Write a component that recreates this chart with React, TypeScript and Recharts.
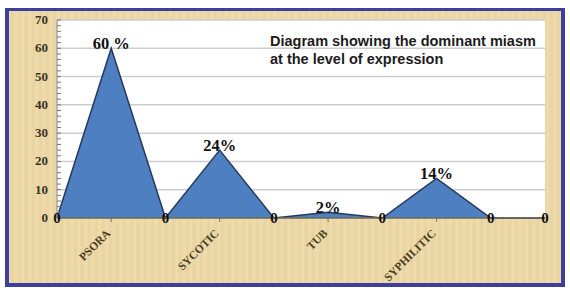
import { AreaChart, Area, XAxis, YAxis, CartesianGrid, LabelList } from "recharts";

// chart values
const categories = ["", "PSORA", "", "SYCOTIC", "", "TUB", "", "SYPHILITIC", "", ""];
const miasmValues = [0, 60, 0, 24, 0, 2, 0, 14, 0, 0];
const valueLabels = ["0", "60 %", "0", "24%", "0", "2%", "0", "14%", "0", "0"];
const yMajorTicks = [0, 10, 20, 30, 40, 50, 60, 70];
const yMinorTicks = [
  0, 2, 4, 6, 8, 10, 12, 14, 16, 18, 20, 22, 24, 26, 28, 30, 32, 34, 36,
  38, 40, 42, 44, 46, 48, 50, 52, 54, 56, 58, 60, 62, 64, 66, 68, 70,
];

const data = categories.map((name, i) => ({
  idx: i,
  name,
  value: miasmValues[i],
  label: valueLabels[i],
}));

const serif = "'Liberation Serif', 'DejaVu Serif', serif";

const YTick = ({ x, y, payload }: any) => {
  const major = yMajorTicks.includes(payload.value);
  return (
    <g>
      <line x1={x + 8} x2={x + 12} y1={y} y2={y} stroke="#777" strokeWidth={1} />
      {major && (
        <text x={x - 1} y={y + 4} textAnchor="end" fontFamily={serif} fontWeight="bold" fontSize={13} fill="#3a3326">
          {payload.value}
        </text>
      )}
    </g>
  );
};

const XTick = ({ x, y, payload }: any) => {
  const name = categories[payload.value];
  if (!name) return null;
  return (
    <g>
      <line x1={x} x2={x} y1={y - 8} y2={y - 4} stroke="#777" strokeWidth={1} />
      <text
        x={x}
        y={y + 8}
        textAnchor="end"
        transform={`rotate(-45 ${x} ${y + 8})`}
        fontFamily={serif}
        fontWeight="bold"
        fontSize={11.5}
        fill="#4a3d22"
      >
        {name}
      </text>
    </g>
  );
};

const PointLabel = ({ x, y, value }: any) => {
  if (value === "0") {
    return (
      <text x={x} y={y + 5} textAnchor="middle" fontFamily={serif} fontWeight="bold" fontSize={15} fill="#111">
        0
      </text>
    );
  }
  return (
    <text x={x} y={y + 1} textAnchor="middle" fontFamily={serif} fontWeight="bold" fontSize={16.5} fill="#111">
      {value}
    </text>
  );
};

export default function App() {
  return (
    <div style={{ position: "absolute", left: 0, top: 0, width: 570, height: 293, background: "#fff" }}>
      <div
        style={{
          position: "absolute",
          left: 5,
          top: 8,
          width: 552,
          height: 272,
          border: "4px solid #3d3f9e",
          borderTopWidth: 3,
          background:
            "repeating-linear-gradient(90deg, rgba(255,255,255,0.08) 0px, rgba(0,0,0,0.03) 3px, rgba(255,255,255,0.06) 7px), #efd9a6",
        }}
      />
      <div style={{ position: "absolute", left: 0, top: 0 }}>
        <AreaChart width={570} height={293} data={data} margin={{ top: 20, right: 25, bottom: 0, left: 2 }}>
          <CartesianGrid
            horizontal
            vertical={false}
            horizontalValues={yMajorTicks}
            fill="#ffffff"
            stroke="#c9cdd2"
            strokeWidth={1.5}
          />
          <XAxis
            dataKey="idx"
            type="category"
            tick={<XTick />}
            tickLine={false}
            axisLine={{ stroke: "#6e6a58", strokeWidth: 1.5 }}
            interval={0}
            height={75}
          />
          <YAxis
            domain={[0, 70]}
            ticks={yMinorTicks}
            interval={0}
            tick={<YTick />}
            tickLine={false}
            axisLine={{ stroke: "#888", strokeWidth: 1 }}
            width={55}
          />
          <Area
            type="linear"
            dataKey="value"
            fill="#4e7fc0"
            fillOpacity={1}
            stroke="#27385a"
            strokeWidth={1.5}
            isAnimationActive={false}
          >
            <LabelList dataKey="label" content={<PointLabel />} />
          </Area>
        </AreaChart>
      </div>
      <div
        style={{
          position: "absolute",
          left: 270,
          top: 32,
          fontFamily: "'Liberation Sans', Arial, sans-serif",
          fontWeight: "bold",
          fontSize: 14.5,
          lineHeight: "18px",
          color: "#1c1c1c",
          whiteSpace: "nowrap",
        }}
      >
        Diagram showing the dominant miasm
        <br />
        at the level of expression
      </div>
    </div>
  );
}
